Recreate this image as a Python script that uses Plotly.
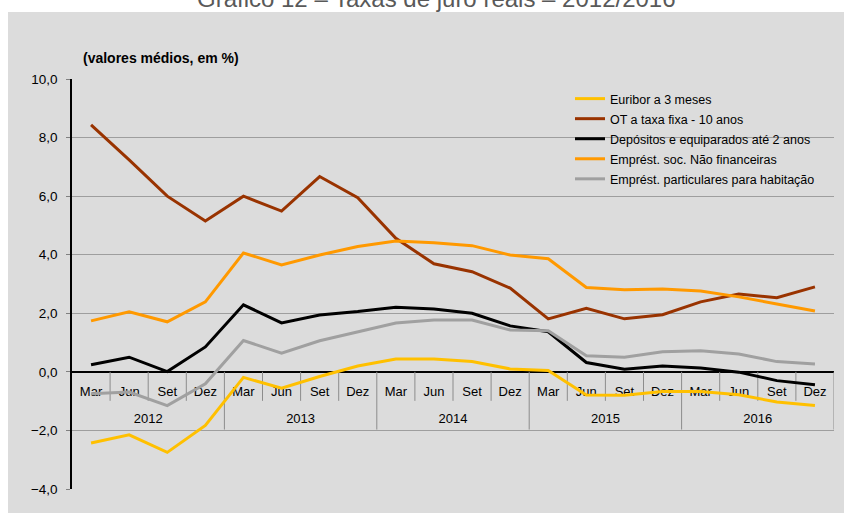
import plotly.graph_objects as go

quarters = ["Mar", "Jun", "Set", "Dez"] * 5
years = ["2012", "2013", "2014", "2015", "2016"]

euribor = [-2.43, -2.15, -2.75, -1.83, -0.19, -0.56, -0.16, 0.20, 0.44, 0.44,
           0.35, 0.10, 0.05, -0.79, -0.80, -0.67, -0.67, -0.78, -1.03, -1.15]
ot10 = [8.43, 7.24, 6.00, 5.15, 6.00, 5.49, 6.67, 5.95, 4.56, 3.69,
        3.42, 2.86, 1.81, 2.17, 1.81, 1.95, 2.39, 2.66, 2.53, 2.90]
depositos = [0.24, 0.50, 0.01, 0.85, 2.29, 1.67, 1.94, 2.06, 2.21, 2.15,
             2.00, 1.57, 1.37, 0.32, 0.09, 0.20, 0.13, -0.01, -0.30, -0.44]
emp_snf = [1.74, 2.05, 1.71, 2.39, 4.06, 3.65, 3.99, 4.28, 4.47, 4.41,
           4.31, 3.99, 3.86, 2.88, 2.80, 2.83, 2.76, 2.56, 2.32, 2.08]
emp_hab = [-0.75, -0.69, -1.15, -0.41, 1.07, 0.64, 1.06, 1.37, 1.67, 1.77,
           1.77, 1.43, 1.40, 0.55, 0.50, 0.69, 0.72, 0.61, 0.35, 0.27]

series = [
    ("Euribor a 3 meses", euribor, "#FFC000"),
    ("OT a taxa fixa - 10 anos", ot10, "#993300"),
    ("Depósitos e equiparados até 2 anos", depositos, "#000000"),
    ("Emprést. soc. Não financeiras", emp_snf, "#FF9900"),
    ("Emprést. particulares para habitação", emp_hab, "#A0A0A0"),
]

FONT = "Liberation Sans"
n = len(quarters)
x = list(range(n))

# helpers: screen pixel -> paper fraction of the plot area (72..834, 79..489)
def px(sx):
    return (sx - 72) / 762

def py(sy):
    return (489 - sy) / 410

fig = go.Figure()

# category labels (drawn under the lines)
fig.add_trace(go.Scatter(
    x=x, y=[-0.7] * n, mode="text", text=quarters,
    textfont=dict(family=FONT, size=13, color="#000000"),
    showlegend=False, hoverinfo="skip"))
fig.add_trace(go.Scatter(
    x=[4 * k + 1.5 for k in range(len(years))], y=[-1.65] * len(years),
    mode="text", text=years,
    textfont=dict(family=FONT, size=13, color="#000000"),
    showlegend=False, hoverinfo="skip"))

for k, (name, vals, col) in enumerate(series):
    fig.add_trace(go.Scatter(x=x, y=vals, mode="lines", name=name,
                             legendgroup=f"g{k}",
                             line=dict(color=col, width=3)))

shapes = []
# outer gray chart area
shapes.append(dict(type="rect", xref="paper", yref="paper",
                   x0=px(8), x1=px(860), y0=py(530), y1=py(12),
                   fillcolor="#DCDCDC", line=dict(width=0), layer="below"))
# legend area cover over gridline
shapes.append(dict(type="rect", xref="paper", yref="y",
                   x0=px(552), x1=1.0, y0=6.4, y1=8.6,
                   fillcolor="#DCDCDC", line=dict(width=0), layer="between"))
# category separators
for i in range(n):
    xb = i + 0.5
    y1 = -1.97 if (i + 1) % 4 == 0 else -0.99
    shapes.append(dict(type="line", xref="x", yref="y", x0=xb, x1=xb,
                       y0=0, y1=y1, line=dict(color="#8C8C8C", width=1),
                       layer="between"))

fig.update_layout(
    width=844, height=513,
    margin=dict(l=72, r=10, t=79, b=24),
    paper_bgcolor="#FFFFFF",
    plot_bgcolor="rgba(0,0,0,0)",
    separators=",.",
    font=dict(family=FONT, size=13, color="#000000"),
    shapes=shapes,
    showlegend=True,
    legend=dict(x=px(570), y=py(84), xanchor="left",
                yanchor="top", bgcolor="rgba(0,0,0,0)",
                font=dict(family=FONT, size=12.5, color="#000000"),
                tracegroupgap=0.8),
    xaxis=dict(range=[-0.5, n - 0.5], showgrid=False, zeroline=False,
               showline=False, showticklabels=False, ticks=""),
    yaxis=dict(range=[-4, 10], dtick=2, tick0=0, tickformat=".1f",
               showgrid=True, gridcolor="#9E9E9E", gridwidth=1,
               zeroline=True, zerolinecolor="#000000", zerolinewidth=1.5,
               showline=True, linecolor="#000000", linewidth=1.5,
               ticks="outside", ticklen=4, tickcolor="#808080",
               ticklabelstandoff=6,
               tickfont=dict(family=FONT, size=13.5, color="#000000")),
    annotations=[
        dict(text="Gráfico 12 – Taxas de juro reais – 2012/2016",
             xref="paper", yref="paper", x=px(436),
             y=py(-1.5), xanchor="center", yanchor="middle",
             showarrow=False,
             font=dict(family=FONT, size=24, color="#595959")),
        dict(text="<b>(valores médios, em %)</b>",
             xref="paper", yref="paper", x=px(81),
             y=py(58.5), xanchor="left", yanchor="middle",
             showarrow=False,
             font=dict(family=FONT, size=14, color="#000000")),
    ],
)

fig.write_html(
    "out.html",
    config={"displayModeBar": False},
    post_script="document.body.style.margin='0';document.body.style.overflow='hidden';",
)
